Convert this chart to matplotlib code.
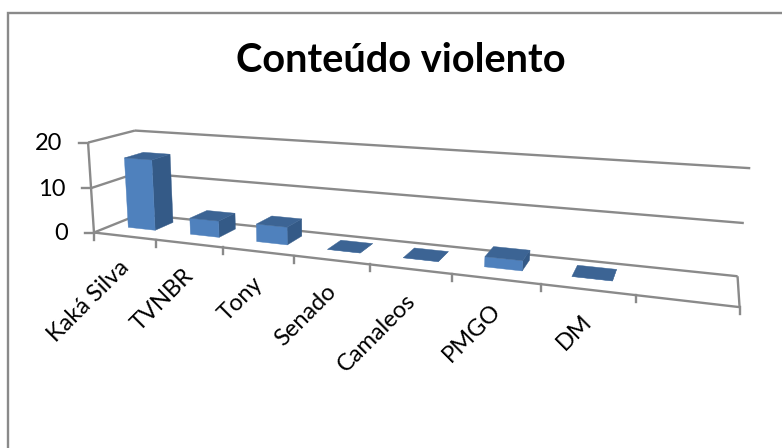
import numpy as np
import matplotlib
matplotlib.use("Agg")
import matplotlib.pyplot as plt
from matplotlib.patches import Polygon

title = "Conteúdo violento"
categories = ["Kaká Silva", "TVNBR", "Tony", "Senado", "Camaleos", "PMGO", "DM", ""]
values = [15.8, 3.6, 3.8, 0, 0, 2, 0, None]
yticks = [0, 10, 20]

W, H = 782, 448
plt.rcParams['font.family'] = ['Lato', 'DejaVu Sans']
fig = plt.figure(figsize=(W/100, H/100), dpi=100)
ax = fig.add_axes([0, 0, 1, 1])
ax.set_xlim(0, W); ax.set_ylim(H, 0); ax.axis('off')

# calibration of the pseudo-3D box: (category, value, depth) -> pixel
n = len(categories)
calib = [
    ((0, 0, 0), (96, 231)), ((n, 0, 0), (740, 305)),
    ((n, 0, 1), (738, 274)), ((0, 0, 1), (137, 215)),
    ((0, 20, 0), (86, 142)), ((0, 20, 1), (137, 131)),
    ((n, 20, 1), (750, 169)), ((n, 10, 1), (744, 223)),
    ((0, 10, 0), (91, 187)),
    ((1, 0, 0), (157, 239)), ((2, 0, 0), (223, 248)), ((3, 0, 0), (294, 257)),
    ((4, 0, 0), (370, 266)), ((5, 0, 0), (452, 275)), ((6, 0, 0), (540, 285)),
    ((7, 0, 0), (636, 296)),
]
A = []
for (c, v, d), (u, w) in calib:
    A.append([c, v, d, 1, 0, 0, 0, 0, -u*c, -u*v, -u*d, -u])
    A.append([0, 0, 0, 0, c, v, d, 1, -w*c, -w*v, -w*d, -w])
P = np.linalg.svd(np.array(A, float))[2][-1].reshape(3, 4)

def proj(c, v, d):
    p = P @ np.array([c, v, d, 1.0])
    return p[0]/p[2], p[1]/p[2]

GRID = '#8a8a8a'
LW = 1.7
def line(a, b, lw=LW):
    x0, y0 = proj(*a); x1, y1 = proj(*b)
    ax.plot([x0, x1], [y0, y1], color=GRID, lw=lw, solid_capstyle='butt', zorder=1)

# frame: only the left and top edges lie inside the crop
ax.plot([7.5, 7.5, W], [H, 13, 13], color='#8a8a8a', lw=1.7, solid_joinstyle='miter', zorder=0)

# walls and gridlines
for v in yticks:
    line((0, v, 0), (0, v, 1))
    line((0, v, 1), (n, v, 1))
line((0, 0, 0), (n, 0, 0))
line((n, 0, 0), (n, 0, 1))
line((0, 0, 0), (0, 20, 0))

# ticks and labels
for v in yticks:
    x, y = proj(0, v, 0)
    ax.plot([x-9, x], [y, y], color=GRID, lw=LW, zorder=1)
    ax.text(x-26, y+1, str(v), ha='right', va='center', fontsize=17, color='black')
for i in range(n+1):
    x, y = proj(i, 0, 0)
    ax.plot([x, x], [y, y+7], color=GRID, lw=LW, zorder=1)
for i, lab in enumerate(categories):
    x, y = proj(i+0.5, 0, 0)
    ax.text(x-6, y+21, lab, rotation=45, ha='right', va='top', rotation_mode='anchor',
            fontsize=17, color='black')

# bars
FRONT, SIDE, TOP = '#4f81bd', '#345a87', '#3c6494'
bw, bd = 0.44, 0.42
for i, val in enumerate(values):
    if val is None:
        continue
    c0, c1 = i+0.5-bw/2, i+0.5+bw/2
    d0, d1 = 0.37, 0.37+bd
    faces = [
        ([(c1, 0, d0), (c1, 0, d1), (c1, val, d1), (c1, val, d0)], SIDE),
        ([(c0, 0, d0), (c1, 0, d0), (c1, val, d0), (c0, val, d0)], FRONT),
        ([(c0, val, d0), (c1, val, d0), (c1, val, d1), (c0, val, d1)], TOP),
    ]
    for pts, col in faces:
        ax.add_patch(Polygon([proj(*p) for p in pts], closed=True, fc=col, ec=col, lw=0.3, zorder=3))

ax.text(401, 61, title, ha='center', va='center', fontsize=28.6, fontweight='bold', color='black')
fig.savefig("out.png", dpi=100)
